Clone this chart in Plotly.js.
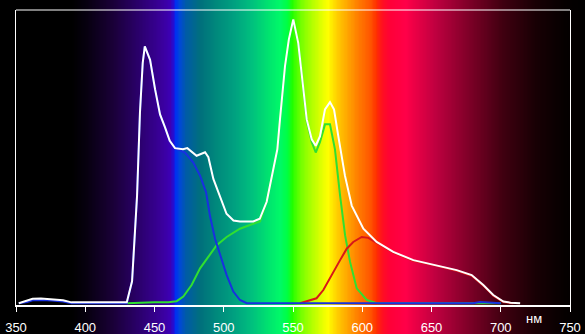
<!DOCTYPE html>
<html><head><meta charset="utf-8">
<script src="https://cdn.plot.ly/plotly-3.0.1.min.js"></script>
<style>html,body{margin:0;padding:0;background:#000;}#chart{width:585px;height:334px;}</style>
</head><body><div id="chart"></div>
<script>
// Wavelength axis ticks
const tickValues = [350,400,450,500,550,600,650,700,750];
const tickLabels = ["350","400","450","500","550","600","650","700","750"];
const unitLabel = "нм";

// Total (white) spectrum
const whiteX = [352,358,362,368,376,384,390,400,420,430,433.8,437.4,439.5,441.5,443,446.8,450.4,454,457.6,461,464.8,470.6,473.7,480.4,486.5,488.9,492.5,497.3,502,507,511.7,521.3,526,531,535.8,538.7,540.6,544.2,547,550.2,553.8,556.3,559.9,563.5,566.4,569.5,573.1,576.7,579.6,582.7,587.5,592.4,600.8,610.4,622.4,636.9,653.8,668.2,679,687.4,694.6,701.9,707,714];
const whiteY = [0,0.8,1.5,1.6,1.4,1.0,0.3,0.3,0.3,0.3,7.5,36.6,65,82,87.6,83,73,64.4,60,55.4,52.9,52.5,52.9,50.3,51.5,49.8,42.4,36.7,30.5,28.2,27.9,27.9,28.8,34.6,45.8,52.5,62.7,80.8,90,96.8,88.7,77.4,62.7,55.9,53.7,57,66.1,68.6,66.1,57,43.5,33.3,25.4,20.9,17.5,14.7,13,11.3,9.6,6.2,2.8,0.6,0.2,0];

// Blue component
const blueX = [352,358,362,368,376,384,390,400,425,430,433.8,437.4,439.5,441.5,443,446.8,450.4,454,457.6,461,464.8,468,472,478,482.9,487.2,490,493.7,497.3,502.1,506.9,511.7,516.6,550,600,650,680,685,690,700];
const blueY = [0,0.4,1.0,1.1,0.9,0.6,0,0,0,0,7.5,36.6,65,82,87.6,83,73,64.4,60,55.4,52.9,52.3,51.4,48,43.5,37.9,29.9,22,16.4,9.6,4,1.1,0,0,0,0,0,0.4,0.3,0];

// Green component
const greenX = [430,440,450,460,466,470.8,476.8,482.9,490,494.9,502.1,511.7,521.3,526.2,531,535.8,538.7,540.6,544.2,547,550.2,553.8,556.3,559.9,563.5,566.4,569.5,573.1,576.7,580.3,584,587.6,591.2,596,603.2,610.4,650,700];
const greenY = [0,0.2,0.3,0.3,0.7,2.3,6.2,11.9,16.4,19.8,22.6,25.4,27.1,27.9,34.6,45.8,52.4,62.5,80.5,89.5,96.4,88.4,77,62,55,51.4,55,61,61,52.5,36.7,23.2,14.1,5.1,1.1,0,0,0];

// Red component
const redX = [555,559.9,567,571.9,579,584,588.8,593.5,599.6,604.4,609.2,612,622.4,636.9,653.8,668.2,679,687.4,694.6,701.9,709];
const redY = [0,0.8,1.7,4.5,10.7,14.7,18.6,20.9,22.6,22.3,20.9,20.2,17.3,14.5,12.8,11.1,9.4,6,2.6,0.4,0];

// Background spectrum colour stops (wavelength, colour)
const spectrumStops = [
 [336,'#000000'],[390,'#000000'],[400,'#06000e'],[420,'#1a0038'],[440,'#2c0070'],[455,'#3a009c'],
 [461,'#3c00b4'],[463.5,'#2010d8'],[465,'#0030f0'],[468,'#0048d8'],[472,'#005aa8'],[483,'#00707c'],
 [495,'#008a7c'],[507,'#00a080'],[520,'#00c07e'],[531,'#00e070'],[540,'#00f868'],[546,'#00ff40'],
 [549,'#20ff00'],[555,'#70ff00'],[562,'#a8ff00'],[570,'#e0ff00'],[575,'#ffff00'],[580,'#ffd800'],
 [584,'#ffc000'],[596,'#ff8000'],[605,'#ff5800'],[610,'#ff3000'],[614,'#ff1020'],[620,'#ff0038'],
 [631,'#ff0048'],[652,'#c00040'],[676,'#800028'],[701,'#400010'],[725,'#180004'],[746,'#050000'],[764,'#000000']
];

const W = 585, H = 334;
const L = 16, R = 570, T = 10, B = 305;
const pxPerNm = (R - L) / 400;
const bgX = [];
for (let w = 336; w <= 764; w += 1) bgX.push(w);
const zmin = 336, zmax = 764;
const colorscale = spectrumStops.map(s => [(s[0]-zmin)/(zmax-zmin), s[1]]);

const traces = [
 {type:'heatmap', x:bgX, y:[-1,2], z:[bgX,bgX], zmin:zmin, zmax:zmax, colorscale:colorscale,
  showscale:false, zsmooth:'best', hoverinfo:'skip', xaxis:'x', yaxis:'y'},
 {type:'scatter', mode:'lines', x:greenX, y:greenY, line:{color:'#30e030', width:2}, xaxis:'x2', yaxis:'y2', hoverinfo:'skip'},
 {type:'scatter', mode:'lines', x:redX, y:redY, line:{color:'#d81818', width:2}, xaxis:'x2', yaxis:'y2', hoverinfo:'skip'},
 {type:'scatter', mode:'lines', x:blueX, y:blueY, line:{color:'#1830e0', width:2}, xaxis:'x2', yaxis:'y2', hoverinfo:'skip'},
 {type:'scatter', mode:'lines', x:whiteX, y:whiteY, line:{color:'#ffffff', width:2}, xaxis:'x2', yaxis:'y2', hoverinfo:'skip'}
];

const layout = {
 width:W, height:H, margin:{l:0,r:0,t:0,b:0,pad:0},
 paper_bgcolor:'#000000', plot_bgcolor:'rgba(0,0,0,0)', showlegend:false,
 font:{family:'"Liberation Sans", Arial, sans-serif', color:'#ffffff', size:13},
 xaxis:{domain:[0,1], range:[350 - L/pxPerNm, 750 + (W-R)/pxPerNm], visible:false, fixedrange:true},
 yaxis:{domain:[0,1], range:[0,1], visible:false, fixedrange:true},
 xaxis2:{domain:[L/W, R/W], anchor:'y2', range:[350,750], tickmode:'array', tickvals:tickValues, ticktext:tickLabels,
   ticks:'outside', ticklen:5, tickwidth:1, tickcolor:'#ffffff', showline:true, linecolor:'#ffffff', linewidth:2,
   showgrid:false, zeroline:false, tickfont:{color:'#ffffff', size:13}, ticklabelstandoff:4},
 yaxis2:{domain:[(H-B)/H, (H-T)/H], anchor:'x2', range:[-0.6,100], showline:true, mirror:true, linecolor:'#ffffff',
   linewidth:1, showticklabels:false, ticks:'', showgrid:false, zeroline:false},
 shapes:[{type:'line', xref:'x2 domain', yref:'y2 domain', x0:0, x1:1, y0:1, y1:1, line:{color:'#ffffff', width:1}}],
 annotations:[{text:unitLabel, xref:'x2', yref:'paper', x:724, y:(H-318.5)/H, xanchor:'center', yanchor:'middle',
   showarrow:false, font:{color:'#ffffff', size:13}}]
};

Plotly.newPlot('chart', traces, layout, {staticPlot:true, displayModeBar:false});
</script></body></html>
